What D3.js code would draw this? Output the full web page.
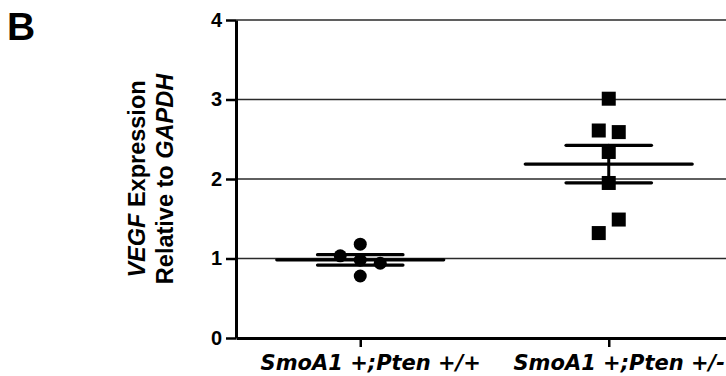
<!DOCTYPE html>
<html>
<head>
<meta charset="utf-8">
<script src="https://cdn.jsdelivr.net/npm/d3@7"></script>
<style>
  html, body { margin: 0; padding: 0; background: #fff; }
  svg { display: block; }
</style>
</head>
<body>
<svg id="chart" width="726" height="376"></svg>
<script>
// ---- data ----
const categories = ["SmoA1 +;Pten +/+", "SmoA1 +;Pten +/-"];
const wildTypeValues = [1.18, 1.034, 0.98, 0.94, 0.78];
const wildTypeSlots  = [0, -1, 0, 1, 0];
const hetValues = [3.01, 2.61, 2.59, 2.34, 1.95, 1.49, 1.32];
const hetSlots  = [0, -1, 1, 0, 0, 1, -1];
const yTicks = [0, 1, 2, 3, 4];
const gridValues = [1, 2, 3, 4];

const groups = [
  { cat: categories[0], values: wildTypeValues, slots: wildTypeSlots, shape: "circle", jitter: 20 },
  { cat: categories[1], values: hetValues, slots: hetSlots, shape: "square", jitter: 10 }
];

// ---- layout ----
const svg = d3.select("#chart");
const plotLeft = 236, plotTop = 20, plotBottom = 338, plotRight = 733;

const x = d3.scalePoint().domain(categories).range([plotLeft, plotRight]).padding(0.5);
const y = d3.scaleLinear().domain([0, 4]).range([plotBottom, plotTop]);
const step = x.step();

// gridlines
svg.append("g").selectAll("line").data(gridValues).join("line")
  .attr("x1", plotLeft).attr("x2", plotRight)
  .attr("y1", d => y(d)).attr("y2", d => y(d))
  .attr("stroke", "#2a2a2a").attr("stroke-width", 1.6);

// y axis
const yAxis = svg.append("g").attr("transform", `translate(${plotLeft},0)`)
  .call(d3.axisLeft(y).tickValues(yTicks).tickFormat(d3.format("d")).tickSize(10).tickSizeOuter(0).tickPadding(4));
yAxis.select(".domain").attr("stroke", "#000").attr("stroke-width", 3);
yAxis.selectAll(".tick line").attr("stroke", "#000").attr("stroke-width", 2.5);
yAxis.selectAll(".tick text").attr("fill", "#000")
  .style("font-family", "'Liberation Sans', Arial, sans-serif")
  .style("font-weight", "bold").style("font-size", "20px");

// x axis
const xAxis = svg.append("g").attr("transform", `translate(0,${plotBottom})`)
  .call(d3.axisBottom(x).tickSize(9).tickSizeOuter(0).tickFormat(""));
xAxis.select(".domain").attr("stroke", "#000").attr("stroke-width", 3);
xAxis.selectAll(".tick line").attr("stroke", "#000").attr("stroke-width", 2.5);

// category labels
svg.append("g").selectAll("text").data(categories).join("text")
  .attr("x", d => x(d) + 10.5).attr("y", 370)
  .attr("text-anchor", "middle")
  .style("font-family", "'DejaVu Sans', Verdana, sans-serif")
  .style("font-weight", "bold").style("font-style", "italic").style("font-size", "21px")
  .attr("fill", "#000")
  .text(d => d);

// summary lines (mean and SEM)
groups.forEach(g => {
  const m = d3.mean(g.values);
  const sem = d3.deviation(g.values) / Math.sqrt(g.values.length);
  const cx = x(g.cat);
  const gg = svg.append("g").attr("stroke", "#000").attr("stroke-linecap", "round");
  gg.append("line").attr("x1", cx).attr("x2", cx).attr("y1", y(m + sem)).attr("y2", y(m - sem)).attr("stroke-width", 3);
  gg.append("line").attr("x1", cx - step * 0.336).attr("x2", cx + step * 0.336)
    .attr("y1", y(m)).attr("y2", y(m)).attr("stroke-width", 3.2);
  [m + sem, m - sem].forEach(v => {
    gg.append("line").attr("x1", cx - step * 0.172).attr("x2", cx + step * 0.172)
      .attr("y1", y(v)).attr("y2", y(v)).attr("stroke-width", 3.2);
  });
});

// points
groups.forEach(g => {
  const cx = x(g.cat);
  const pts = g.values.map((v, i) => ({ v, px: cx + g.slots[i] * g.jitter }));
  if (g.shape === "circle") {
    svg.append("g").selectAll("circle").data(pts).join("circle")
      .attr("cx", d => d.px).attr("cy", d => y(d.v)).attr("r", 6.5).attr("fill", "#000");
  } else {
    const s = 14;
    svg.append("g").selectAll("rect").data(pts).join("rect")
      .attr("x", d => d.px - s / 2).attr("y", d => y(d.v) - s / 2)
      .attr("width", s).attr("height", s).attr("fill", "#000");
  }
});

// y title
const midY = (plotTop + plotBottom) / 2;
const yt = svg.append("text")
  .attr("transform", `translate(145,${midY}) rotate(-90)`)
  .attr("text-anchor", "middle")
  .style("font-family", "'Liberation Sans', Arial, sans-serif")
  .style("font-weight", "bold").style("font-size", "23.5px").attr("fill", "#000");
yt.append("tspan").style("font-style", "italic").text("VEGF");
yt.append("tspan").text(" Expression");
const yt2 = svg.append("text")
  .attr("transform", `translate(173,${midY}) rotate(-90)`)
  .attr("text-anchor", "middle")
  .style("font-family", "'Liberation Sans', Arial, sans-serif")
  .style("font-weight", "bold").style("font-size", "23.5px").attr("fill", "#000");
yt2.append("tspan").text("Relative to ");
yt2.append("tspan").style("font-style", "italic").text("GAPDH");

// panel letter
svg.append("text").attr("x", 7).attr("y", 40)
  .style("font-family", "'Liberation Sans', Arial, sans-serif")
  .style("font-weight", "bold").style("font-size", "39px").attr("fill", "#000")
  .text("B");
</script>
</body>
</html>
